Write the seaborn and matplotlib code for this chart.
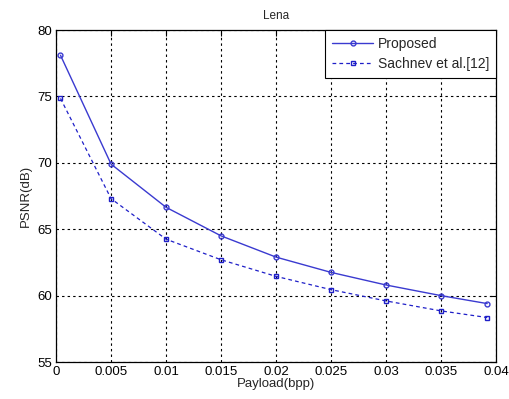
import matplotlib
matplotlib.use("Agg")
import matplotlib.pyplot as plt
import numpy as np
import pandas as pd
import seaborn as sns

# Embedding payload (bpp) and PSNR (dB) for the Lena image
payload = [0.0004, 0.005, 0.01, 0.015, 0.02, 0.025, 0.03, 0.035, 0.0392]
psnr_proposed = [78.1, 69.9, 66.65, 64.5, 62.9, 61.75, 60.8, 60.0, 59.4]
psnr_sachnev = [74.85, 67.3, 64.25, 62.7, 61.45, 60.45, 59.6, 58.85, 58.35]

x_ticks = [0, 0.005, 0.01, 0.015, 0.02, 0.025, 0.03, 0.035, 0.04]
x_tick_labels = ["0", "0.005", "0.01", "0.015", "0.02", "0.025", "0.03", "0.035", "0.04"]
y_ticks = [55, 60, 65, 70, 75, 80]

df = pd.DataFrame({
    "payload": payload * 2,
    "psnr": psnr_proposed + psnr_sachnev,
    "method": ["Proposed"] * len(payload) + ["Sachnev et al.[12]"] * len(payload),
})

sns.set_style("white")
plt.rcParams["font.family"] = ["Liberation Sans", "DejaVu Sans"]

fig = plt.figure(figsize=(5.10, 3.99), dpi=100)
ax = fig.add_axes([0.11, 0.0927, 0.8625, 0.832])

blue1 = "#3a3ad0"
blue2 = "#1f1fc8"

sns.lineplot(data=df[df.method == "Proposed"], x="payload", y="psnr", ax=ax,
             color=blue1, linestyle="-", linewidth=1.0, marker="o", markersize=3.5,
             markerfacecolor="none", markeredgecolor=blue1, markeredgewidth=1.0,
             label="Proposed")
sns.lineplot(data=df[df.method != "Proposed"], x="payload", y="psnr", ax=ax,
             color=blue2, linestyle=(0, (3, 2.5)), linewidth=0.9, marker="s", markersize=3.5,
             markerfacecolor="none", markeredgecolor=blue2, markeredgewidth=1.0,
             label="Sachnev et al.[12]")

ax.set_xlim(0, 0.04)
ax.set_ylim(55, 80)
ax.set_xticks(x_ticks)
ax.set_xticklabels(x_tick_labels)
ax.set_yticks(y_ticks)

ax.grid(True, color="black", linestyle=(0, (2.2, 2.8)), linewidth=0.8)
for s in ax.spines.values():
    s.set_visible(True)
    s.set_color("black")
    s.set_linewidth(0.9)

ax.tick_params(axis="both", direction="in", length=4, width=0.8, labelsize=9.5,
               top=True, right=True, colors="black", pad=3)

ax.set_title("Lena", fontsize=8.5, pad=8)
ax.set_xlabel("Payload(bpp)", fontsize=9.5, labelpad=0)
ax.set_ylabel("PSNR(dB)", fontsize=9.5, labelpad=4)

leg = ax.legend(loc="upper right", fontsize=10, frameon=True, fancybox=False,
                framealpha=1, edgecolor="black", handlelength=3.0, borderaxespad=0,
                borderpad=0.5, labelspacing=0.45, handletextpad=0.3)
leg.get_frame().set_linewidth(0.8)

fig.savefig("out.png", dpi=100, facecolor="white")
